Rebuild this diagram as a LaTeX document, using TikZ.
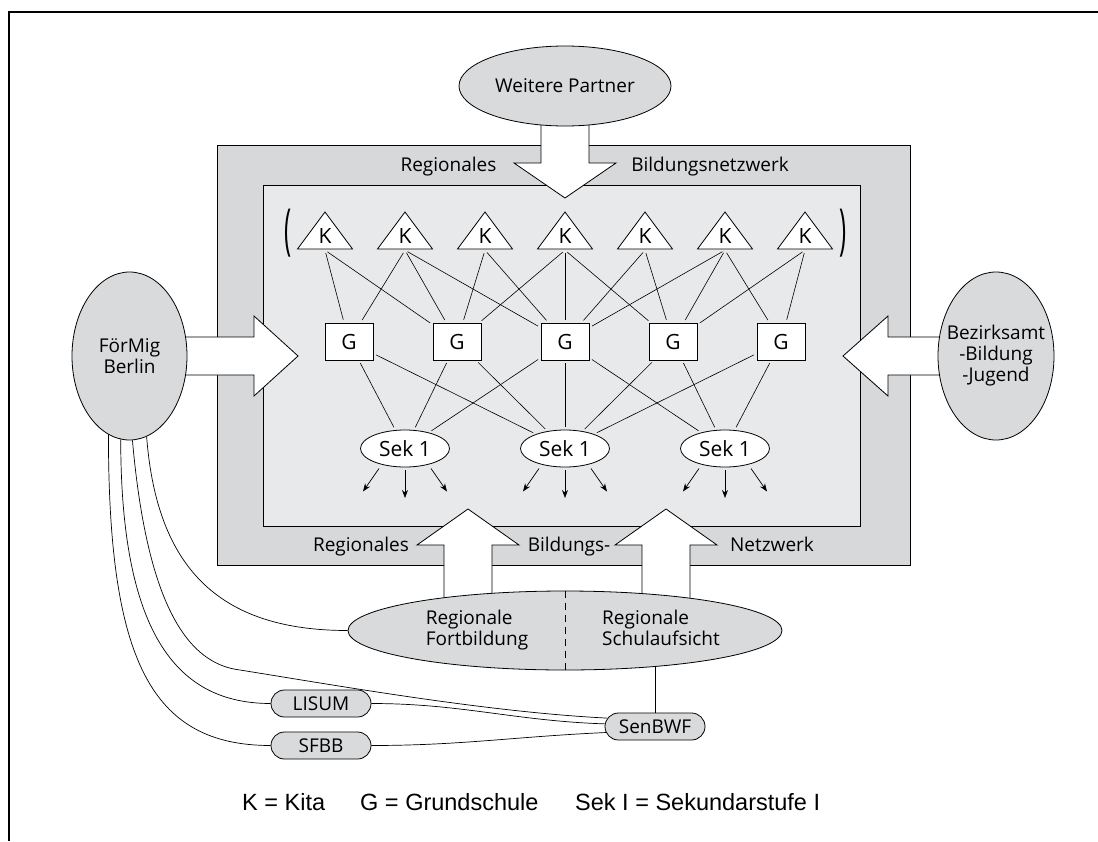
\documentclass[tikz,border=0pt]{standalone}
\usepackage{fontspec}
\setmainfont{Open Sans}
\newfontfamily\legendefont{Liberation Sans}
\usetikzlibrary{shapes.geometric,shapes.misc,arrows.meta,backgrounds}
\definecolor{grisbande}{RGB}{215,216,218}
\definecolor{grisclair}{RGB}{232,233,235}
\definecolor{grisnoeud}{RGB}{217,218,220}

\begin{document}
\begin{tikzpicture}[x=1pt, y=-1pt,
	texte/.style={font=\fontsize{19}{21}\selectfont, align=center, inner sep=0pt},
	partenaire/.style={ellipse, draw, line width=0.8pt, fill=grisnoeud, font=\fontsize{19}{21}\selectfont, align=center, inner sep=0pt},
	institut/.style={rounded rectangle, draw, line width=0.8pt, fill=grisnoeud, minimum width=102pt, minimum height=27pt, font=\fontsize{19}{21}\selectfont, inner sep=1pt},
	kita/.style={font=\fontsize{21}{21}\selectfont, inner sep=0pt, minimum height=28pt},
	triangle/.style={draw, line width=0.8pt, fill=white},
	ecole/.style={draw, line width=0.8pt, fill=white, minimum width=48pt, minimum height=37pt, font=\fontsize{21}{21}\selectfont, inner sep=0pt},
	sek/.style={ellipse, draw, line width=0.8pt, fill=white, minimum width=89pt, minimum height=37pt, font=\fontsize{21}{21}\selectfont, inner sep=0pt},
	parenthese/.style={font=\fontsize{24}{24}\selectfont, yscale=2.3, inner sep=0pt},
	bloc/.style={draw, line width=0.8pt, fill=white},
	lien/.style={line width=0.6pt, shorten <=3pt, shorten >=3pt},
	courbe/.style={line width=0.7pt},
	fleche/.style={->, >={Stealth[length=8pt,width=6pt]}, line width=0.7pt},
	legende/.style={font=\legendefont\fontsize{23.5}{24}\selectfont, inner sep=0pt, anchor=base west}]
	\useasboundingbox (0,0) rectangle (1098,841);
	
	% Cadre
	\draw[line width=1.5pt] (9,841) -- (9,12) -- (1098,12);
	
	% Partenaires autour du réseau
	\node[partenaire, minimum width=212pt, minimum height=80pt] (wp) at (565,86) {Weitere Partner};
	\node[partenaire, minimum width=115pt, minimum height=168pt] (fm) at (129.5,356) {FörMig\\Berlin};
	\node[partenaire, minimum width=116pt, minimum height=168pt] (bez) at (996,356) {};
	\node[texte] (bezt) at (bez) {Bezirksamt\\-Bildung\\-Jugend};
	
	% Textes de la bande
	\node[texte, anchor=base] (rhaut) at (448.5,171) {Regionales};
	\node[texte, anchor=base] (bhaut) at (710,171) {Bildungsnetzwerk};
	\node[texte, anchor=base] (rbas) at (361,551) {Regionales};
	\node[texte, anchor=base] (bbas) at (569,551) {Bildungs-};
	\node[texte, anchor=base] (nbas) at (772,551) {Netzwerk};
	
	% Kitas
	\node[parenthese] (pg) at (288,233.5) {(};
	\node[parenthese] (pd) at (843,233.5) {)};
	\draw[triangle] (297.5,249) -- (352.5,249) -- (325,212) -- cycle;
	\node[kita] (k1) at (325,236) {K};
	\draw[triangle] (377.5,249) -- (432.5,249) -- (405,212) -- cycle;
	\node[kita] (k2) at (405,236) {K};
	\draw[triangle] (457.5,249) -- (512.5,249) -- (485,212) -- cycle;
	\node[kita] (k3) at (485,236) {K};
	\draw[triangle] (537.5,249) -- (592.5,249) -- (565,212) -- cycle;
	\node[kita] (k4) at (565,236) {K};
	\draw[triangle] (617.5,249) -- (672.5,249) -- (645,212) -- cycle;
	\node[kita] (k5) at (645,236) {K};
	\draw[triangle] (697.5,249) -- (752.5,249) -- (725,212) -- cycle;
	\node[kita] (k6) at (725,236) {K};
	\draw[triangle] (777.5,249) -- (832.5,249) -- (805,212) -- cycle;
	\node[kita] (k7) at (805,236) {K};
	
	% Grundschulen et Sek 1
	\node[ecole] (g1) at (349,341.5) {G};
	\node[ecole] (g2) at (457,341.5) {G};
	\node[ecole] (g3) at (565,341.5) {G};
	\node[ecole] (g4) at (673,341.5) {G};
	\node[ecole] (g5) at (781,341.5) {G};
	\node[sek] (sek1) at (405,448.5) {Sek 1};
	\node[sek] (sek2) at (565,448.5) {Sek 1};
	\node[sek] (sek3) at (725,448.5) {Sek 1};
	
	% Liens K - G
	\draw[lien] (k1.south) -- (g1);
	\draw[lien] (k1.south) -- (g2);
	\draw[lien] (k2.south) -- (g1);
	\draw[lien] (k2.south) -- (g2);
	\draw[lien] (k2.south) -- (g3);
	\draw[lien] (k3.south) -- (g2);
	\draw[lien] (k3.south) -- (g3);
	\draw[lien] (k4.south) -- (g2);
	\draw[lien] (k4.south) -- (g3);
	\draw[lien] (k4.south) -- (g4);
	\draw[lien] (k5.south) -- (g3);
	\draw[lien] (k5.south) -- (g4);
	\draw[lien] (k6.south) -- (g3);
	\draw[lien] (k6.south) -- (g4);
	\draw[lien] (k6.south) -- (g5);
	\draw[lien] (k7.south) -- (g4);
	\draw[lien] (k7.south) -- (g5);
	
	% Liens G - Sek
	\draw[lien] (g1) -- (sek1);
	\draw[lien] (g1) -- (sek2);
	\draw[lien] (g2) -- (sek1);
	\draw[lien] (g2) -- (sek2);
	\draw[lien] (g3) -- (sek1);
	\draw[lien] (g3) -- (sek2);
	\draw[lien] (g3) -- (sek3);
	\draw[lien] (g4) -- (sek2);
	\draw[lien] (g4) -- (sek3);
	\draw[lien] (g5) -- (sek2);
	\draw[lien] (g5) -- (sek3);
	
	% Petites flèches sous les Sek
	\draw[fleche] ([shift={(-26,20)}]sek1.center) -- ([shift={(-42,43)}]sek1.center);
	\draw[fleche] ([shift={(0,21.5)}]sek1.center) -- ([shift={(0,49.5)}]sek1.center);
	\draw[fleche] ([shift={(26,20)}]sek1.center) -- ([shift={(42,43)}]sek1.center);
	\draw[fleche] ([shift={(-26,20)}]sek2.center) -- ([shift={(-42,43)}]sek2.center);
	\draw[fleche] ([shift={(0,21.5)}]sek2.center) -- ([shift={(0,49.5)}]sek2.center);
	\draw[fleche] ([shift={(26,20)}]sek2.center) -- ([shift={(42,43)}]sek2.center);
	\draw[fleche] ([shift={(-26,20)}]sek3.center) -- ([shift={(-42,43)}]sek3.center);
	\draw[fleche] ([shift={(0,21.5)}]sek3.center) -- ([shift={(0,49.5)}]sek3.center);
	\draw[fleche] ([shift={(26,20)}]sek3.center) -- ([shift={(42,43)}]sek3.center);
	
	% Fortbildung / Schulaufsicht
	\node[partenaire, minimum width=434pt, minimum height=79pt] (reg) at (565,630.5) {};
	\draw[dash pattern=on 7pt off 5pt, line width=0.7pt] (reg.north) -- (reg.south);
	\node[texte, align=left] (fortb) at (477,630) {Regionale\\Fortbildung};
	\node[texte, align=left] (aufsicht) at (661,628) {Regionale\\Schulaufsicht};
	
	% Institutions
	\node[institut] (lisum) at (321,703.5) {LISUM};
	\node[institut] (sfbb) at (321,745.5) {SFBB};
	\node[institut] (sen) at (655,726.5) {SenBWF};
	
	% Courbes depuis FörMig
	\draw[courbe] (fm.255) .. controls +(0,225) and +(-120,0) .. (sfbb.west);
	\draw[courbe] (fm.264) .. controls +(0,200) and +(-90,0) .. (lisum.west);
	\draw[courbe] (fm.272) .. controls +(15,170) and +(-50,-6) .. (240,670) .. controls +(100,16) and +(-120,-6) .. (sen.170);
	\draw[courbe] (fm.282) .. controls +(10,130) and +(-130,0) .. (reg.west);
	\draw[courbe] (lisum.east) .. controls +(90,0) and +(-90,-3) .. (sen.177);
	\draw[courbe] (sfbb.east) .. controls +(90,0) and +(-90,4) .. (sen.187);
	
	% Légende
	\node[legende] (lk) at (242,810) {K = Kita};
	\node[legende] (lg) at (360,810) {G = Grundschule};
	\node[legende] (ls) at (575,810) {Sek I = Sekundarstufe I};
	
	% Réseau et grandes flèches (arrière-plan)
	\begin{pgfonlayer}{background}
		\draw[line width=0.9pt, fill=grisbande] (217,145) rectangle (910,565);
		\draw[line width=0.9pt, fill=grisclair] (263,185) rectangle (860,526);
		\draw[bloc] (541,110) -- (541,163) -- (514,163) -- (565,198) -- (616,163) -- (589,163) -- (589,110) -- cycle;
		\draw[bloc] (150,337) -- (254,337) -- (254,316) -- (298,356) -- (254,396) -- (254,375) -- (150,375) -- cycle;
		\draw[bloc] (980,337) -- (888,337) -- (888,316) -- (843,356) -- (888,396) -- (888,375) -- (980,375) -- cycle;
		\draw[bloc] (444,610) -- (444,545) -- (417,545) -- (468,509) -- (519,545) -- (492,545) -- (492,610) -- cycle;
		\draw[bloc] (642,610) -- (642,545) -- (615,545) -- (666,509) -- (717,545) -- (690,545) -- (690,610) -- cycle;
		\draw[line width=1pt] (sen.north) -- (sen.north |- reg.center);
	\end{pgfonlayer}
\end{tikzpicture}
\end{document}
